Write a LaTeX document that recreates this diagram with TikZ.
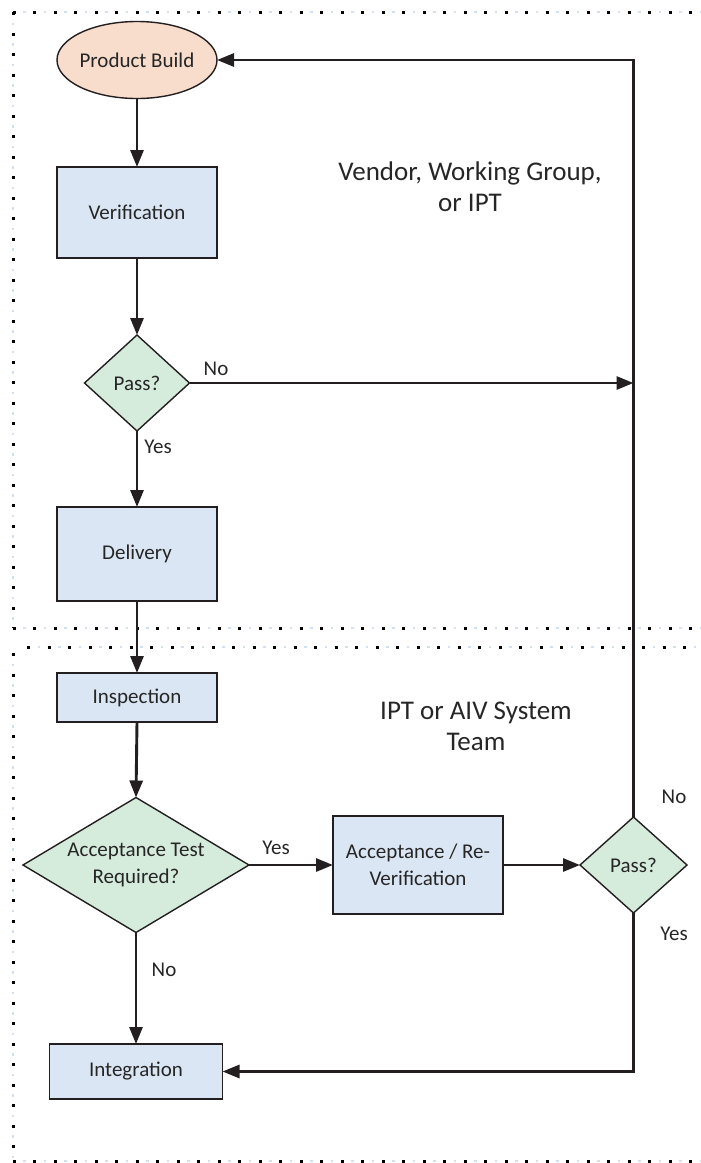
\documentclass[tikz,border=0pt]{standalone}
\usepackage{fontspec}
\setmainfont{Carlito}
\usetikzlibrary{shapes.geometric,arrows.meta}
\definecolor{pbfill}{HTML}{F8DCCC}
\definecolor{boxfill}{HTML}{DAE6F4}
\definecolor{diafill}{HTML}{D5EBDC}
\definecolor{ink}{HTML}{231F20}
\definecolor{txtc}{HTML}{262626}
\definecolor{dotblue}{HTML}{D3E0F0}
\begin{document}
\begin{tikzpicture}[x=1pt,y=-1pt,
  base/.style={draw=ink, line width=1.4pt, inner sep=0pt, outer sep=0pt, font=\fontsize{21}{27}\selectfont, text=txtc},
  ovalnode/.style={base, ellipse, fill=pbfill},
  boxnode/.style={base, rectangle, fill=boxfill},
  dianode/.style={base, diamond, fill=diafill},
  conn/.style={draw=ink, line width=2.9pt, -{Triangle[length=17pt,width=13pt]}},
  lbl/.style={font=\fontsize{21}{26}\selectfont, text=txtc, inner sep=0pt},
  region/.style={font=\fontsize{27}{31}\selectfont, text=txtc, align=center, inner sep=0pt},
  blackdots/.style={draw=black, line width=3pt, dash pattern=on 3pt off 17.5pt},
  bluedots/.style={draw=dotblue, line width=2.5pt, dash pattern=on 2.5pt off 18pt, dash phase=10pt},
]
\useasboundingbox (0,0) rectangle (701,1163);

% dotted swimlane borders
\foreach \a/\b in {{(12.5,12)/(701,12)},{(13,12)/(13,628)},{(12.5,628)/(701,628)},{(27,647)/(701,647)},{(13,653)/(13,1161)},{(12.5,1161)/(701,1161)}}{
  \draw[bluedots] \a -- \b;
  \draw[blackdots] \a -- \b;
}

% nodes
\node[ovalnode, minimum width=160pt, minimum height=77pt] (pb) at (137,60) {\makebox[0pt]{Product Build}};
\node[boxnode, minimum width=160pt, minimum height=91pt] (ver) at (137,212.5) {Verification};
\node[dianode, minimum width=105pt, minimum height=96pt] (p1) at (137,383) {Pass?};
\node[boxnode, minimum width=160pt, minimum height=94pt] (del) at (137,554) {Delivery};
\node[boxnode, minimum width=160pt, minimum height=49pt] (ins) at (137,697.5) {Inspection};
\node[dianode, minimum width=226pt, minimum height=135pt] (acc) at (136,865) {\makebox[0pt]{\begin{tabular}{@{}c@{}}Acceptance Test\\Required?\end{tabular}}};
\node[boxnode, align=center, minimum width=170pt, minimum height=98pt] (ab) at (418,865) {Acceptance / Re-\\Verification};
\node[dianode, minimum width=107pt, minimum height=96pt] (p2) at (633.5,865) {Pass?};
\node[boxnode, minimum width=173pt, minimum height=55pt] (int) at (136,1071.5) {Integration};

% region labels
\node[region] (vlab) at (470,187) {Vendor, Working Group,\\or IPT};
\node[region] (ilab) at (476,726) {IPT or AIV System\\Team};

% connectors
\coordinate (jn) at (633.5,383);
\draw[conn] (pb.south) -- (ver.north);
\draw[conn] (ver.south) -- (p1.north);
\draw[conn] (p1.south) -- (del.north);
\draw[conn] (p1.east) -- (jn);
\draw[conn] (del.south) -- (ins.north);
\draw[conn] (ins.south) -- (acc.north);
\draw[conn] (acc.east) -- (ab.west);
\draw[conn] (ab.east) -- (p2.west);
\draw[conn] (p2.north) |- (pb.east);
\draw[conn] (p2.south) |- (int.east);
\draw[conn] (acc.south) -- (int.north);

% connector labels
\node[lbl] (l1) at (158,447) {Yes};
\node[lbl] (l2) at (216,369) {No};
\node[lbl] (l3) at (276,848) {Yes};
\node[lbl] (l4) at (674,797) {No};
\node[lbl] (l5) at (674,934) {Yes};
\node[lbl] (l6) at (164,970) {No};
\end{tikzpicture}
\end{document}
